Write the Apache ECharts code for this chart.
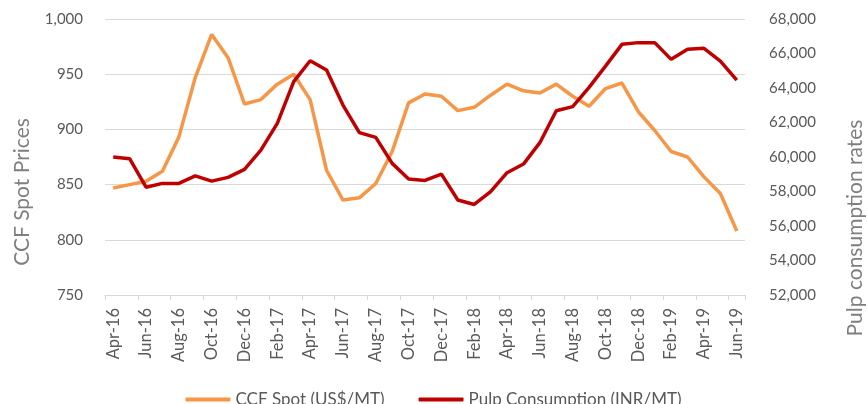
<!DOCTYPE html>
<html>
<head>
<meta charset="utf-8">
<script src="https://cdn.jsdelivr.net/npm/echarts@6/dist/echarts.min.js"></script>
<style>
  html, body { margin: 0; padding: 0; background: #fff; }
  #chart { width: 867px; height: 404px; }
</style>
</head>
<body>
<div id="chart"></div>
<script>
// months Apr-16 .. Jun-19
const months = [
  'Apr-16', 'May-16', 'Jun-16', 'Jul-16', 'Aug-16', 'Sep-16', 'Oct-16', 'Nov-16', 'Dec-16',
  'Jan-17', 'Feb-17', 'Mar-17', 'Apr-17', 'May-17', 'Jun-17', 'Jul-17', 'Aug-17', 'Sep-17',
  'Oct-17', 'Nov-17', 'Dec-17', 'Jan-18', 'Feb-18', 'Mar-18', 'Apr-18', 'May-18', 'Jun-18',
  'Jul-18', 'Aug-18', 'Sep-18', 'Oct-18', 'Nov-18', 'Dec-18', 'Jan-19', 'Feb-19', 'Mar-19',
  'Apr-19', 'May-19', 'Jun-19'
]
// CCF spot, US$/MT (left axis)
const ccfSpot = [
  847, 850, 853, 862, 893, 947, 986, 965, 923,
  927, 941, 950, 927, 863, 836, 838, 851, 880,
  924, 932, 930, 917, 920, 931, 941, 935, 933,
  941, 930, 921, 937, 942, 916, 899, 880, 875,
  857, 842, 808
]
// pulp consumption, INR/MT (right axis)
const pulpConsumption = [
  60000, 59900, 58250, 58470, 58470, 58910, 58600, 58820, 59280,
  60400, 61950, 64370, 65580, 65040, 63010, 61410, 61140, 59630,
  58720, 58640, 59010, 57510, 57250, 57990, 59090, 59590, 60830,
  62680, 62920, 64040, 65270, 66530, 66630, 66630, 65660, 66240,
  66300, 65560, 64460
]

const FONT = 'Lato, "Open Sans", sans-serif'
const chart = echarts.init(document.getElementById('chart'))

const commas = v => v.toString().replace(/\B(?=(\d{3})+(?!\d))/g, ',')

chart.setOption({
  animation: false,
  textStyle: { fontFamily: FONT },
  color: ['#F79646', '#C00000'],
  grid: { left: 105, right: 122, top: 19, bottom: 109 },
  legend: {
    top: 386,
    left: 'center',
    icon: 'roundRect',
    itemWidth: 45,
    itemHeight: 4,
    itemGap: 34,
    textStyle: { fontFamily: FONT, fontSize: 17, color: '#595959' },
    data: ['CCF Spot (US$/MT)', 'Pulp Consumption (INR/MT)']
  },
  xAxis: {
    type: 'category',
    data: months,
    boundaryGap: true,
    axisLine: { lineStyle: { color: '#D9D9D9', width: 1 } },
    axisTick: { show: true, interval: 1, length: 5, lineStyle: { color: '#D9D9D9' } },
    axisLabel: {
      interval: 1,
      rotate: 90,
      margin: 13,
      fontSize: 16.5,
      color: '#595959',
      fontFamily: FONT
    }
  },
  yAxis: [
    {
      type: 'value',
      min: 750,
      max: 1000,
      interval: 50,
      axisLine: { show: false },
      axisTick: { show: false },
      splitLine: { lineStyle: { color: '#D9D9D9', width: 1 } },
      axisLabel: { fontSize: 15, color: '#595959', margin: 22, fontFamily: FONT, formatter: commas }
    },
    {
      type: 'value',
      min: 52000,
      max: 68000,
      interval: 2000,
      axisLine: { show: false },
      axisTick: { show: false },
      splitLine: { show: false },
      axisLabel: { fontSize: 15, color: '#595959', margin: 24, fontFamily: FONT, formatter: commas }
    }
  ],
  graphic: [
    {
      type: 'text',
      x: 22,
      y: 192,
      rotation: Math.PI / 2,
      style: {
        text: 'CCF Spot Prices',
        fill: '#7F7F7F',
        font: '21px ' + FONT,
        align: 'center',
        verticalAlign: 'middle'
      }
    },
    {
      type: 'text',
      x: 855,
      y: 228,
      rotation: Math.PI / 2,
      style: {
        text: 'Pulp consumption rates',
        fill: '#7F7F7F',
        font: '21px ' + FONT,
        align: 'center',
        verticalAlign: 'middle'
      }
    }
  ],
  series: [
    {
      name: 'CCF Spot (US$/MT)',
      type: 'line',
      yAxisIndex: 0,
      data: ccfSpot,
      showSymbol: false,
      lineStyle: { width: 3.5, color: '#F79646' },
      itemStyle: { color: '#F79646' }
    },
    {
      name: 'Pulp Consumption (INR/MT)',
      type: 'line',
      yAxisIndex: 1,
      data: pulpConsumption,
      showSymbol: false,
      lineStyle: { width: 3.5, color: '#C00000' },
      itemStyle: { color: '#C00000' }
    }
  ]
})
</script>
</body>
</html>
